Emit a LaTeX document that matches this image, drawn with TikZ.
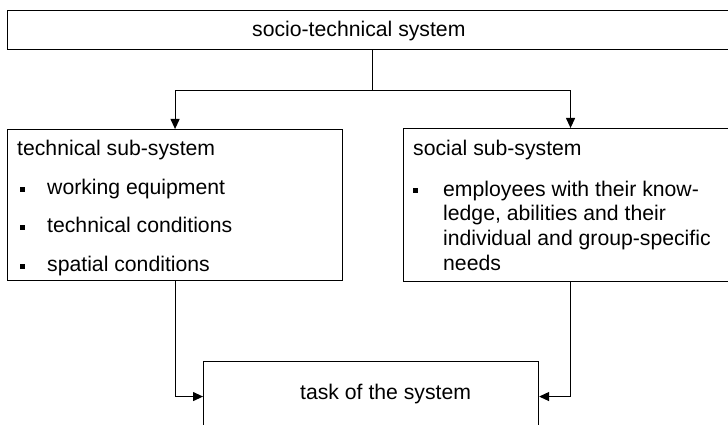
\documentclass[tikz,border=0pt]{standalone}
\usepackage{fontspec}
\setmainfont{Liberation Sans}
\usetikzlibrary{arrows.meta}
\begin{document}
\begin{tikzpicture}[x=1pt,y=-1pt,
  box/.style={draw, line width=1.1pt, inner sep=0pt, anchor=north west},
  txt/.style={inner sep=0pt, anchor=base west, font=\fontsize{21.2}{25}\selectfont},
  bul/.style={fill, inner sep=0pt, minimum size=5pt},
  arr/.style={line width=1.1pt, -{Triangle[length=10pt,width=9pt]}}]
\useasboundingbox (0,0) rectangle (728,425);
\clip (0,0) rectangle (728,425);
% boxes
\node[box, minimum width=730pt, minimum height=39pt] (top) at (7,10) {};
\node[box, minimum width=335pt, minimum height=151pt] (tech) at (7,129) {};
\node[box, minimum width=334pt, minimum height=153pt] (soc) at (403,128) {};
\node[box, minimum width=335pt, minimum height=70pt] (task) at (203,361) {};
% texts
\node[txt] (toptxt) at (252,37) {socio-technical system};
\node[txt] (techtitle) at (17,155) {technical sub-system};
\node[bul] (b1) at (22.5,189) {};
\node[txt] (t1) at (47,194) {working equipment};
\node[bul] (b2) at (22.5,227) {};
\node[txt] (t2) at (47,232) {technical conditions};
\node[bul] (b3) at (22.5,266) {};
\node[txt] (t3) at (47,271) {spatial conditions};
\node[txt] (soctitle) at (413,156) {social sub-system};
\node[bul] (b4) at (415.5,190.5) {};
\node[txt] (s1) at (443,196) {employees with their know-};
\node[txt] (s2) at (443,220) {ledge, abilities and their};
\node[txt] (s3) at (443,245) {individual and group-specific};
\node[txt] (s4) at (443,270) {needs};
\node[txt] (tasktxt) at (300,399) {task of the system};
% connectors
\draw[arr] (top.south) -- ++(0,40) -| (tech.north);
\draw[arr] (top.south) -- ++(0,40) -| (soc.north);
\draw[arr] (tech.south) |- (task.west);
\draw[arr] (soc.south) |- (task.east);
\end{tikzpicture}
\end{document}
